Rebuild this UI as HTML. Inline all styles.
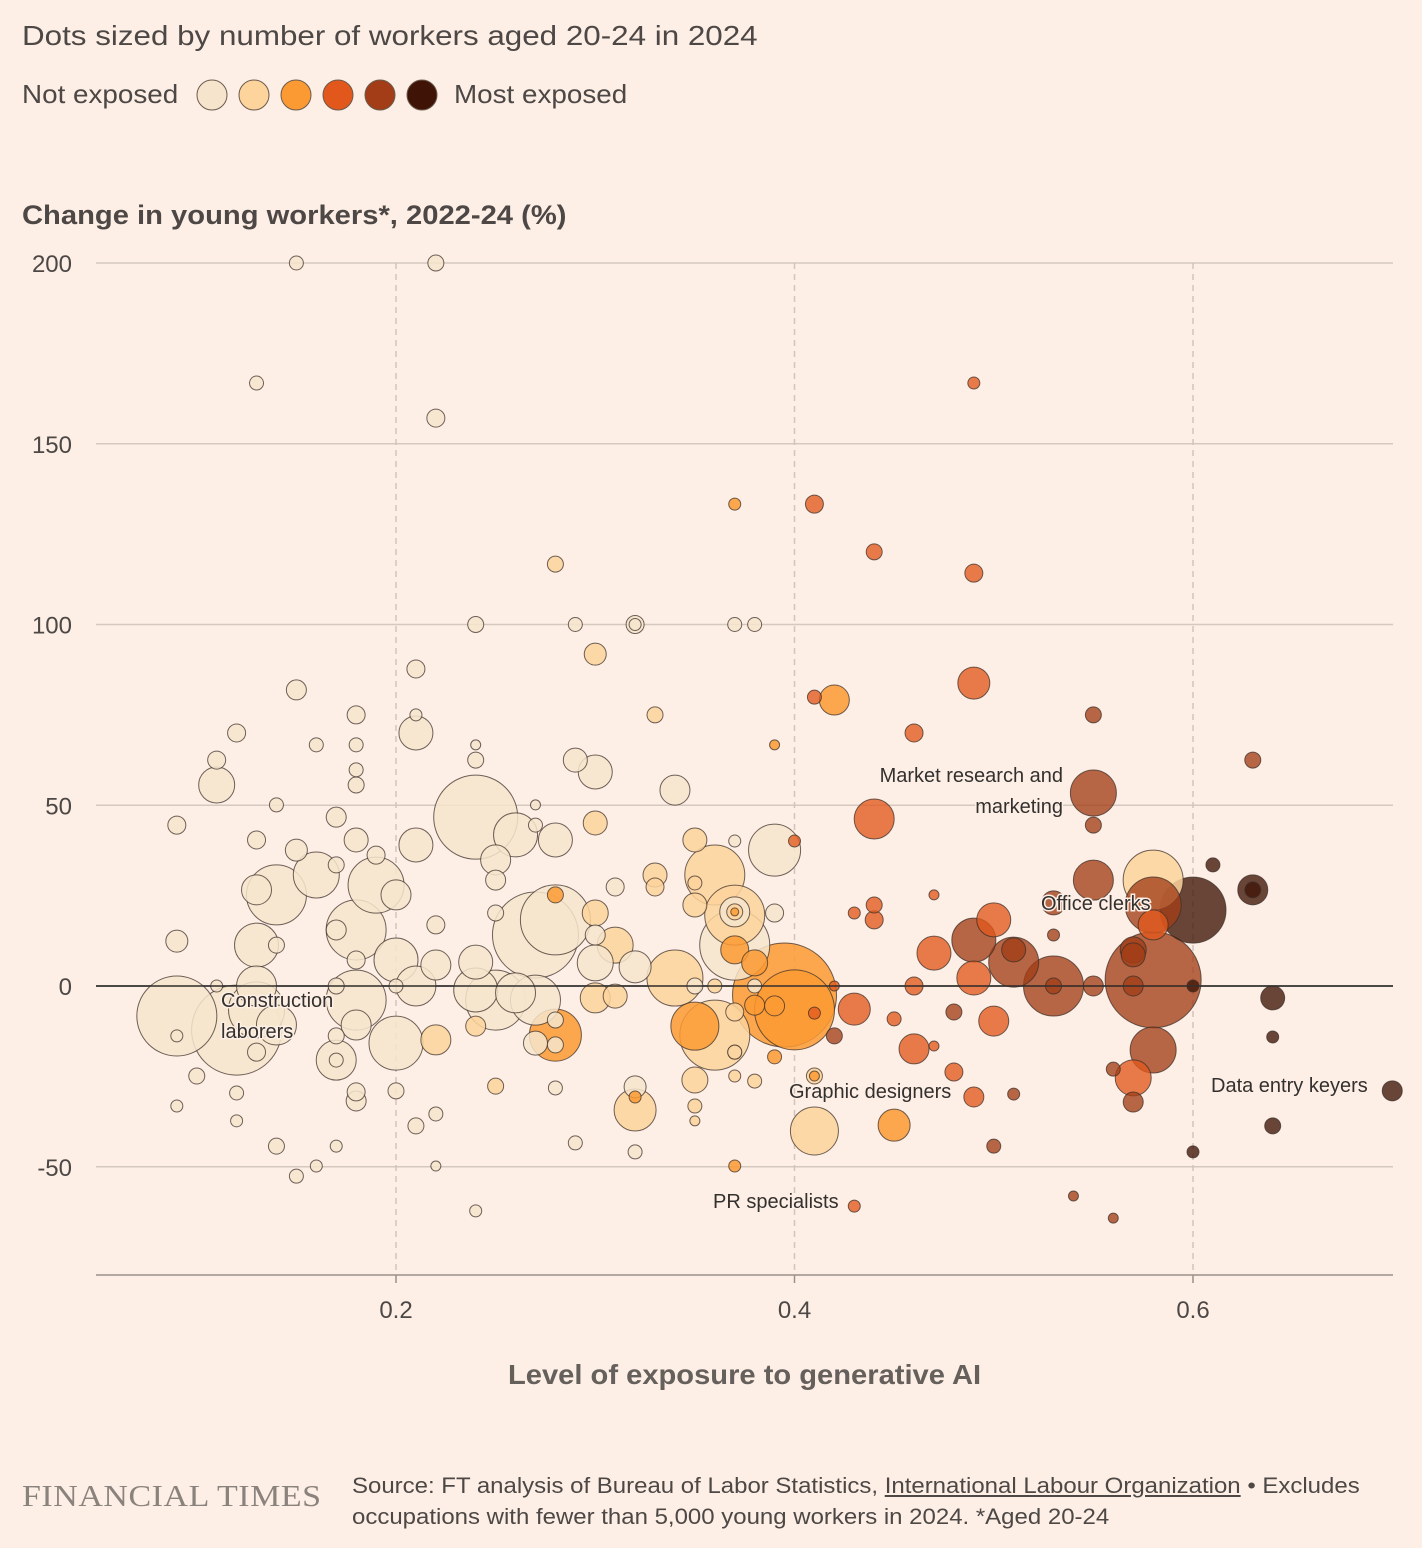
<!DOCTYPE html>
<html><head><meta charset="utf-8">
<style>
html,body{margin:0;padding:0;background:#fdefe6;}
body{width:1422px;height:1548px;overflow:hidden;position:relative;font-family:"Liberation Sans",sans-serif;color:#33302e;}
.t{position:absolute;white-space:nowrap;transform-origin:0 0;}
</style></head>
<body>
<div class="t" style="left:22px;top:20px;font-size:28px;color:#4d4845;transform:scaleX(1.12);">Dots sized by number of workers aged 20-24 in 2024</div>
<div class="t" style="left:22px;top:79px;font-size:26px;color:#4d4845;transform:scaleX(1.07);">Not exposed</div>
<div class="t" style="left:454px;top:79px;font-size:26px;color:#4d4845;transform:scaleX(1.07);">Most exposed</div>
<div class="t" style="left:22px;top:200px;font-size:27px;color:#4d4845;transform:scaleX(1.08);font-weight:600;">Change in young workers*, 2022-24 (%)</div>
<div class="t" style="left:508px;top:1359px;font-size:28px;color:#66605c;transform:scaleX(1.04);font-weight:600;">Level of exposure to generative AI</div>
<div class="t" style="left:22px;top:1478px;font-size:31px;font-family:'Liberation Serif',serif;color:#8a827c;letter-spacing:0.5px;transform:scaleX(1.095);">FINANCIAL TIMES</div>
<div class="t" style="left:352px;top:1470px;font-size:22px;line-height:31px;color:#4d4845;transform:scaleX(1.09);">Source: FT analysis of Bureau of Labor Statistics, <span style="text-decoration:underline">International Labour Organization</span> • Excludes<br>occupations with fewer than 5,000 young workers in 2024. *Aged 20-24</div>
<svg id="chart" width="1422" height="1548" style="position:absolute;left:0;top:0" xmlns="http://www.w3.org/2000/svg"></svg>
<script>
const levelColors=['#f6e5cc','#fdd49b','#fb9a32','#e2581c','#a23d17','#3f1407'];
const yTicks=[200,150,100,50,0,-50];
const xTicks=[0.2,0.4,0.6];
const exposure=[.15,.22,.13,.22,.49,.37,.41,.44,.49,.28,.24,.29,.32,.32,.37,.38,.30,.21,.49,.15,
.41,.42,.33,.18,.21,.55,.12,.21,.46,.16,.18,.24,.39,.11,.24,.29,.63,.18,.30,.18,
.11,.34,.55,.14,.27,.24,.44,.17,.09,.30,.55,.26,.27,.13,.28,.18,.35,.21,.37,.39,
.40,.19,.15,.25,.36,.16,.17,.14,.19,.13,.33,.25,.55,.58,.61,.63,.63,.60,.58,.31,
.33,.20,.28,.47,.53,.35,.35,.37,.37,.37,.37,.39,.25,.30,.44,.43,.44,.50,.18,.17,
.22,.27,.28,.30,.31,.37,.37,.53,.49,.47,.51,.57,.09,.14,.13,.18,.20,.22,.24,.30,
.32,.38,.395,.40,.41,.34,.35,.36,.38,.42,.46,.49,.51,.53,.53,.55,.57,.58,.57,.58,
.60,.64,.64,.64,.60,.70,.09,.12,.13,.13,.14,.17,.17,.18,.18,.20,.17,.13,.11,.20,
.21,.24,.25,.26,.27,.30,.31,.28,.28,.28,.24,.22,.27,.35,.36,.37,.37,.38,.39,.39,
.42,.43,.45,.46,.47,.48,.50,.48,.49,.51,.50,.56,.57,.58,.57,.54,.56,.43,.37,.41,
.45,.41,.41,.35,.35,.35,.32,.32,.32,.32,.29,.28,.25,.24,.22,.22,.21,.20,.18,.18,
.17,.15,.16,.17,.14,.12,.12,.09,.10,.09,.37,.38,.37];
const change=[200,200,166.8,157.1,166.8,133.3,133.3,120.1,114.2,116.7,100,100,100,100,100,100,91.8,87.7,83.8,81.9,
79.9,79.1,75,75,75,75,70,70,70,66.7,66.7,66.7,66.7,62.5,62.5,62.5,62.5,59.8,59.2,55.6,
55.6,54.2,53.4,50.1,50.1,46.7,46.2,46.7,44.5,45.1,44.5,41.8,44.5,40.4,40.4,40.4,40.4,39,40.1,37.6,
40.1,36.2,37.6,34.9,30.7,30.7,33.5,25.2,27.9,26.6,30.7,29.3,29.3,29.3,33.5,26.6,26.6,21,22.4,27.4,
27.4,25.2,25.2,25.2,23,28.5,22.4,19.6,20.5,20.5,20.5,20.2,20.2,20.2,22.4,20.2,18.3,18.3,15.5,15.5,
16.9,14.1,18.3,14.1,11.3,11.3,10,14.1,12.7,9.1,10,10,12.4,11.3,11.3,7.2,7.2,5.8,6.6,6.4,
5.3,6.4,-2.5,-6.6,-7.5,2.2,0,0,0,0,0,2.2,6.6,0,0,0,0,1.7,8.6,16.9,
0,-3.3,-14.1,-38.7,-45.9,-29,-8.3,-12.2,-6.6,-18.3,-10.8,-13.8,-20.5,-10.8,-3.9,-15.8,0,0,0,0,
0,-1.1,-3.9,-1.9,-3.9,-3.3,-2.8,-13.6,-9.4,-16.3,-11.1,-14.9,-15.8,-11.1,-13.6,-7.2,-18.3,-5.3,-5.5,-19.6,
-13.8,-6.4,-9.1,-17.4,-16.6,-7.2,-9.7,-23.8,-30.7,-29.9,-44.3,-23,-25.4,-17.7,-32.1,-58.1,-64.2,-60.9,-49.8,-40.1,
-38.5,-24.9,-24.9,-26,-33.2,-37.3,-34.3,-27.9,-30.7,-45.9,-43.4,-28.2,-27.7,-62.2,-49.8,-35.4,-38.7,-29,-29.3,-31.8,
-20.5,-52.6,-49.8,-44.3,-44.3,-37.3,-29.6,-33.2,-24.9,-13.8,-24.9,-26.3,-18.3];
const workers=[49,64,49,81,36,36,81,64,81,64,64,49,81,36,49,49,121,81,256,100,
49,225,64,81,36,64,81,289,81,49,49,25,25,81,64,144,64,49,289,64,
324,225,529,49,25,1764,400,100,81,144,64,484,49,81,289,144,144,289,36,676,
36,81,121,225,900,529,64,900,784,225,144,100,400,900,49,225,64,1089,784,81,
81,225,64,25,144,49,144,900,225,64,16,81,64,169,64,36,81,289,900,100,
81,1849,1225,100,324,1225,196,36,484,289,144,169,121,64,484,81,484,225,289,324,
256,169,2704,1600,36,784,64,49,49,25,81,289,625,900,64,100,100,2304,144,225,
36,144,36,64,36,100,1600,2025,784,81,400,64,400,225,900,729,64,400,36,49,
400,484,900,400,625,225,144,676,64,64,100,225,144,576,1225,81,49,100,100,49,
64,256,49,225,25,64,225,81,100,36,49,49,324,529,100,25,25,36,36,576,
256,64,25,169,49,25,441,121,36,49,49,49,64,36,25,49,64,64,81,100,
49,49,36,36,64,36,49,36,64,36,36,49,49];
const level=[0,0,0,0,3,2,3,3,3,1,0,0,0,0,0,0,1,0,3,0,
3,2,1,0,0,4,0,0,3,0,0,0,2,0,0,0,4,0,0,0,
0,0,4,0,0,0,3,0,0,1,4,0,0,0,0,0,1,0,0,0,
3,0,0,0,1,0,0,0,0,0,1,0,4,1,5,5,5,5,4,0,
1,0,2,3,4,1,1,1,0,1,2,0,0,1,3,3,3,3,0,0,
0,0,0,0,1,0,2,4,4,3,4,4,0,0,0,0,0,0,0,0,
0,2,2,2,3,1,0,1,0,3,3,3,4,4,4,4,4,4,4,3,
5,5,5,5,5,5,0,0,0,0,0,0,0,0,0,0,0,0,0,0,
0,0,0,0,0,1,1,2,0,0,1,1,0,2,1,1,0,2,2,2,
4,3,3,3,3,4,3,3,3,4,4,4,3,4,4,4,4,3,2,1,
2,1,2,1,1,1,1,0,2,0,0,0,1,0,0,0,0,0,0,0,
0,0,0,0,0,0,0,0,0,0,1,1,1];

const NS='http://www.w3.org/2000/svg';
const svg=document.getElementById('chart');
const xs=v=>396+(v-0.2)*1992.5;
const ys=v=>986-v*3.615;
const rs=w=>Math.sqrt(w);
function mk(tag,attrs){const e=document.createElementNS(NS,tag);for(const k in attrs)e.setAttribute(k,attrs[k]);svg.appendChild(e);return e;}

levelColors.forEach((c,i)=>{
  const e=mk('circle',{cx:212+i*42,cy:95,r:15,fill:c,stroke:'#6b5a4c','stroke-width':1});
  
  
});
yTicks.forEach(t=>{
  const l=mk('line',{x1:96,x2:1393,y1:ys(t),y2:ys(t),stroke:t===0?'#33302e':'#d5c8bf','stroke-width':1.6});
  
  
  const tx=mk('text',{x:72,y:ys(t)+9,'text-anchor':'end','font-size':24,fill:'#4d4845','font-family':'Liberation Sans, sans-serif'});
  tx.textContent=t;
  
  
});
xTicks.forEach(t=>{
  const l=mk('line',{x1:xs(t),x2:xs(t),y1:263,y2:1275,stroke:'#d3c4ba','stroke-width':1.5,'stroke-dasharray':'6,5'});
  
  
  const tk=mk('line',{x1:xs(t),x2:xs(t),y1:1275,y2:1283,stroke:'#9a918a','stroke-width':1.5});
  
  
  const tx=mk('text',{x:xs(t),y:1318,'text-anchor':'middle','font-size':24,fill:'#4d4845','font-family':'Liberation Sans, sans-serif'});
  tx.textContent=t;
  
  
});
const ax=mk('line',{x1:96,x2:1393,y1:1275,y2:1275,stroke:'#9a918a','stroke-width':1.5});



const idx=exposure.map((_,i)=>i).sort((a,b)=>workers[b]-workers[a]);
idx.forEach(i=>{
  const c=mk('circle',{cx:xs(exposure[i]),cy:ys(change[i]),r:rs(workers[i]),fill:levelColors[level[i]],'fill-opacity':level[i]>=3?0.78:0.85,stroke:'#3d3029','stroke-opacity':0.75,'stroke-width':1});
  
  
});
const z=mk('line',{x1:96,x2:1393,y1:ys(0),y2:ys(0),stroke:'#33302e','stroke-width':1.6});



const labels=[
 ['Construction',221,1007,'start'],['laborers',221,1038,'start'],
 ['Market research and',1063,782,'end'],['marketing',1063,813,'end'],
 ['Office clerks',1041,910,'start'],['Graphic designers',789,1098,'start'],
 ['PR specialists',713,1208,'start'],['Data entry keyers',1211,1092,'start']];
labels.forEach(l=>{
  const t=mk('text',{x:l[1],y:l[2],'text-anchor':l[3],'font-size':20,fill:'#33302e',stroke:'#fdefe6','stroke-width':3,'paint-order':'stroke','font-family':'Liberation Sans, sans-serif'});
  t.textContent=l[0];
  
  
});
</script>
</body></html>
